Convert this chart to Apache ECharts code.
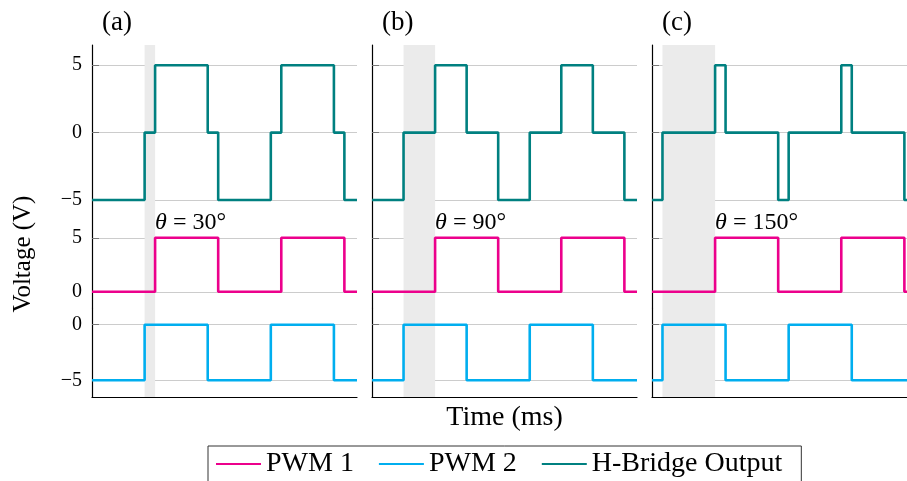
<!DOCTYPE html>
<html>
<head>
<meta charset="utf-8">
<script src="https://cdn.jsdelivr.net/npm/echarts@6/dist/echarts.min.js"></script>
<style>
  html, body { margin: 0; padding: 0; background: #fff; }
  #chart { width: 907px; height: 481px; }
</style>
</head>
<body>
<div id="chart"></div>
<script>
// ---- data (time in units of one switching period, voltage in V) ----
const panelLabels = ['(a)', '(b)', '(c)'];
const phaseLabels = ['30°', '90°', '150°'];
const timeMin = 0;
const timeMax = 2.1;

// PWM 1 (same in every panel): [time, voltage], value holds until next point
const pwm1 = [[0, 0], [0.5, 5], [1, 0], [1.5, 5], [2, 0], [2.1, 0]];

// PWM 2 for each phase shift
const pwm2A = [[0, -5], [0.417, 0], [0.917, -5], [1.417, 0], [1.917, -5], [2.1, -5]];
const pwm2B = [[0, -5], [0.25, 0], [0.75, -5], [1.25, 0], [1.75, -5], [2.1, -5]];
const pwm2C = [[0, -5], [0.083, 0], [0.583, -5], [1.083, 0], [1.583, -5], [2.083, 0], [2.1, 0]];

// H-Bridge output for each phase shift
const hbA = [[0, -5], [0.417, 0], [0.5, 5], [0.917, 0], [1, -5], [1.417, 0], [1.5, 5], [1.917, 0], [2, -5], [2.1, -5]];
const hbB = [[0, -5], [0.25, 0], [0.5, 5], [0.75, 0], [1, -5], [1.25, 0], [1.5, 5], [1.75, 0], [2, -5], [2.1, -5]];
const hbC = [[0, -5], [0.083, 0], [0.5, 5], [0.583, 0], [1, -5], [1.083, 0], [1.5, 5], [1.583, 0], [2, -5], [2.083, 0], [2.1, 0]];

// shaded phase-shift bands [start, end]
const shadeA = [0.417, 0.5];
const shadeB = [0.25, 0.5];
const shadeC = [0.083, 0.5];

// phase label anchor [time, voltage on PWM 1 axis]
const phaseAnchor = [0.5, 6.4];

// tick values
const hbTicks = [-5, 0, 5];
const pwm1Ticks = [0, 5];
const pwm2Ticks = [-5, 0];
const hbRange = [-5, 6.5];
const pwm1Range = [-1.5, 8.5];
const pwm2Range = [-6.5, 1.5];

const seriesNames = ['PWM 1', 'PWM 2', 'H-Bridge Output'];

// ---- styling / layout ----
const FONT = '"Liberation Serif", "DejaVu Serif", serif';
const C_PWM1 = '#ec008c';
const C_PWM2 = '#00aeef';
const C_HB = '#008080';
const GRID_C = '#cccccc';
const LW = 2.6;

const pwm2All = [pwm2A, pwm2B, pwm2C];
const hbAll = [hbA, hbB, hbC];
const shadeAll = [shadeA, shadeB, shadeC];

const panelLeft = [92, 372, 652];
const panelWidth = 265;
const rows = [
  { top: 45, height: 155, range: hbRange, ticks: hbTicks },
  { top: 200, height: 108, range: pwm1Range, ticks: pwm1Ticks },
  { top: 308, height: 89, range: pwm2Range, ticks: pwm2Ticks }
];

const fmt = v => (v < 0 ? '\u2212' + Math.abs(v) : String(v));

const grid = [], xAxis = [], yAxis = [], series = [];

for (let p = 0; p < 3; p++) {
  for (let r = 0; r < 3; r++) {
    const gi = p * 3 + r;
    const row = rows[r];
    grid.push({
      left: panelLeft[p], width: panelWidth, top: row.top, height: row.height,
      containLabel: false, outerBoundsMode: 'none'
    });
    const xa = {
      type: 'value', gridIndex: gi, min: timeMin, max: timeMax,
      axisLabel: { show: false }, axisTick: { show: false }, splitLine: { show: false },
      axisLine: { show: r === 2, onZero: false, lineStyle: { color: '#000', width: 1.2 } }
    };
    if (r === 2 && p === 1) {
      xa.name = 'Time (ms)';
      xa.nameLocation = 'middle';
      xa.nameGap = 7;
      xa.nameTextStyle = { fontFamily: FONT, fontSize: 28, color: '#000' };
    }
    xAxis.push(xa);
    const ya = {
      type: 'value', gridIndex: gi, min: row.range[0], max: row.range[1],
      axisLine: { show: true, onZero: false, lineStyle: { color: '#000', width: 1.2 } },
      axisTick: { show: true, inside: true, length: 7, customValues: row.ticks, lineStyle: { color: '#777', width: 1 } },
      axisLabel: {
        show: p === 0, customValues: row.ticks, margin: 10, formatter: fmt,
        fontFamily: FONT, fontSize: 20, color: '#000'
      },
      splitLine: { show: true, lineStyle: { color: GRID_C, width: 1 } }
    };
    if (p === 0 && r === 1) {
      ya.name = 'Voltage (V)';
      ya.nameLocation = 'middle';
      ya.nameRotate = 90;
      ya.nameGap = 56;
      ya.nameTextStyle = { fontFamily: FONT, fontSize: 25, color: '#000' };
    }
    yAxis.push(ya);

    // shaded phase band (behind the traces)
    series.push({
      type: 'line', xAxisIndex: gi, yAxisIndex: gi, data: [], z: 1, silent: true,
      markArea: {
        silent: true,
        itemStyle: { color: '#ebebeb' },
        data: [[{ xAxis: shadeAll[p][0] }, { xAxis: shadeAll[p][1] }]]
      }
    });
  }

  // H-Bridge output
  series.push({
    name: seriesNames[2], type: 'line', step: 'end', data: hbAll[p],
    xAxisIndex: p * 3, yAxisIndex: p * 3, symbol: 'none', clip: false, z: 3,
    lineStyle: { color: C_HB, width: LW }, itemStyle: { color: C_HB }
  });
  // PWM 1
  series.push({
    name: seriesNames[0], type: 'line', step: 'end', data: pwm1,
    xAxisIndex: p * 3 + 1, yAxisIndex: p * 3 + 1, symbol: 'none', clip: false, z: 3,
    lineStyle: { color: C_PWM1, width: LW }, itemStyle: { color: C_PWM1 },
    markPoint: {
      silent: true, symbol: 'rect', symbolSize: 0,
      data: [{ coord: phaseAnchor }],
      label: {
        show: true, position: 'right', distance: 0,
        formatter: '{t|θ} = ' + phaseLabels[p],
        fontFamily: FONT, fontSize: 24, color: '#000',
        rich: { t: { fontFamily: FONT, fontSize: 24, fontStyle: 'italic', color: '#000' } }
      }
    }
  });
  // PWM 2
  series.push({
    name: seriesNames[1], type: 'line', step: 'end', data: pwm2All[p],
    xAxisIndex: p * 3 + 2, yAxisIndex: p * 3 + 2, symbol: 'none', clip: false, z: 3,
    lineStyle: { color: C_PWM2, width: LW }, itemStyle: { color: C_PWM2 }
  });
}

const titles = panelLabels.map((t, p) => ({
  text: t, left: panelLeft[p] + 10, top: 9, padding: 0,
  textStyle: { fontFamily: FONT, fontSize: 27, fontWeight: 'normal', color: '#000' }
}));

const option = {
  backgroundColor: '#fff',
  animation: false,
  title: titles,
  grid, xAxis, yAxis, series,
  legend: {
    left: 208, top: 446, orient: 'horizontal',
    padding: [4, 19, 8, 7],
    itemWidth: 45, itemHeight: 30, itemGap: 24,
    borderColor: '#333', borderWidth: 1, borderRadius: 0,
    backgroundColor: '#fff',
    itemStyle: { opacity: 0 },
    selectedMode: false,
    textStyle: { fontFamily: FONT, fontSize: 28, color: '#000' },
    data: seriesNames
  }
};

const chart = echarts.init(document.getElementById('chart'), null, { renderer: 'canvas' });
chart.setOption(option);
</script>
</body>
</html>
